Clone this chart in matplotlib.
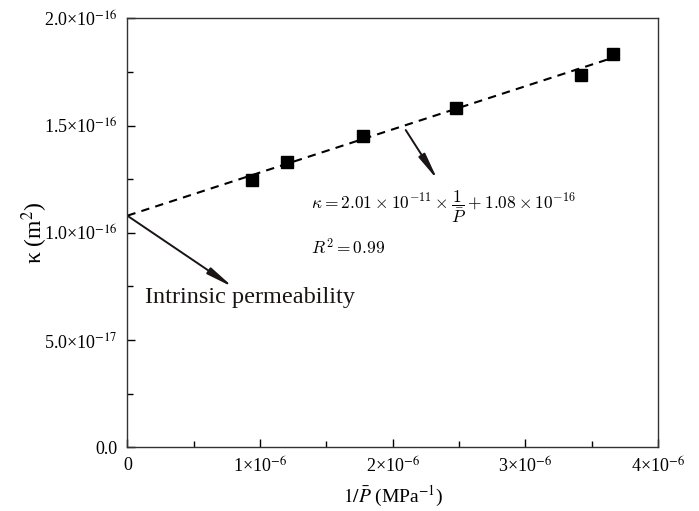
import numpy as np
import matplotlib
matplotlib.use("Agg")
import matplotlib.pyplot as plt
from matplotlib.ticker import MultipleLocator

plt.rcParams.update({
    "font.family": "serif",
    "font.serif": ["Liberation Serif", "DejaVu Serif"],
    "mathtext.fontset": "stix",
    "xtick.direction": "in",
    "ytick.direction": "in",
})

# measured points: 1/P (MPa^-1) vs permeability (m^2)
inv_p = [0.936e-6, 1.204e-6, 1.776e-6, 2.477e-6, 3.416e-6, 3.663e-6]
kappa = [1.246e-16, 1.328e-16, 1.452e-16, 1.582e-16, 1.735e-16, 1.834e-16]

# fitted line
fit_x = [0.0, 3.63e-6]
fit_y = [1.08e-16, 1.81e-16]

xticks = [0, 1e-6, 2e-6, 3e-6, 4e-6]
xticklabels = ["0", "1×10$^{-6}$", "2×10$^{-6}$", "3×10$^{-6}$", "4×10$^{-6}$"]
yticks = [0, 0.5e-16, 1.0e-16, 1.5e-16, 2.0e-16]
yticklabels = ["0.0", "5.0×10$^{-17}$", "1.0×10$^{-16}$",
               "1.5×10$^{-16}$", "2.0×10$^{-16}$"]

fig = plt.figure(figsize=(6.99, 5.11), dpi=100)
ax = fig.add_axes([0.1824, 0.1247, 0.7589, 0.8395])

ax.plot(fit_x, fit_y, color="black", linestyle=(0, (4, 3)), lw=1.5, zorder=2)
ax.plot(inv_p, kappa, linestyle="none", marker="s", ms=9,
        color="black", zorder=3)

ax.set_xlim(0, 4e-6)
ax.set_ylim(0, 2e-16)
ax.set_xticks(xticks)
ax.set_xticklabels(xticklabels, fontsize=13)
ax.set_yticks(yticks)
ax.set_yticklabels(yticklabels, fontsize=13)
ax.xaxis.set_minor_locator(MultipleLocator(0.5e-6))
ax.yaxis.set_minor_locator(MultipleLocator(0.25e-16))
ax.tick_params(which="major", length=6, width=1, pad=7)
ax.tick_params(which="minor", length=4, width=1)
for s in ax.spines.values():
    s.set_linewidth(1.0)
    s.set_color("#333333")

ax.set_xlabel(r"$1/\bar{P}$ (MPa$^{-1}$)", fontsize=14, labelpad=5)
ax.set_ylabel("κ (m$^2$)", fontsize=17, labelpad=-4)

arrow = dict(arrowstyle="-|>,head_length=1.6,head_width=0.22",
             color="#1a1414", lw=1.4, shrinkA=0, shrinkB=0)

ax.annotate("", xy=(2.339e-6, 1.246e-16), xytext=(2.098e-6, 1.479e-16),
            arrowprops=arrow)
ax.annotate("", xy=(0.797e-6, 0.746e-16), xytext=(0.01e-6, 1.075e-16),
            arrowprops=arrow)

ax.text(0.13e-6, 0.70e-16, "Intrinsic permeability", fontsize=17.5,
        va="center", ha="left", color="#1a1414")

ax.text(1.38e-6, 1.12e-16,
        r"$\kappa=2.01\times10^{-11}\times\dfrac{1}{\bar{P}}+1.08\times10^{-16}$",
        fontsize=12.5, math_fontfamily="cm", va="center", ha="left")
ax.text(1.38e-6, 0.93e-16, r"$R^2=0.99$",
        fontsize=12.5, math_fontfamily="cm", va="center", ha="left")

fig.savefig("out.png", dpi=100)
